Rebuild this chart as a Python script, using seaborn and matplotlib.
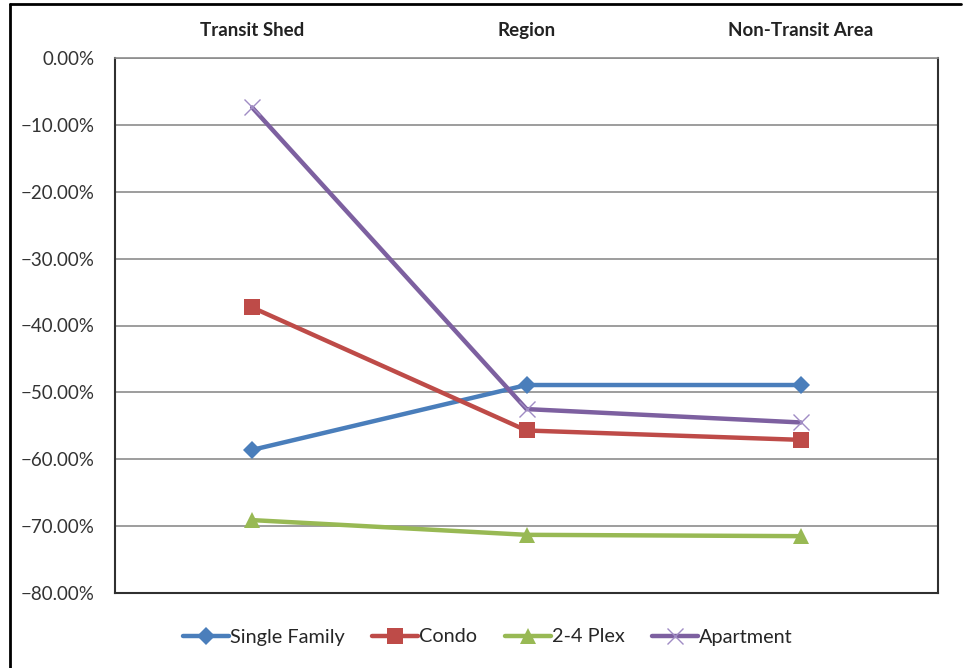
import pandas as pd
import matplotlib.pyplot as plt
import seaborn as sns
from matplotlib.lines import Line2D
from matplotlib.ticker import PercentFormatter

# data (percent change)
areas = ["Transit Shed", "Region", "Non-Transit Area"]
single_family = [-58.6, -48.9, -48.9]
condo = [-37.3, -55.7, -57.1]
plex = [-69.1, -71.3, -71.5]
apartment = [-7.4, -52.5, -54.5]

series = {"Single Family": single_family, "Condo": condo,
          "2-4 Plex": plex, "Apartment": apartment}
rows = []
for name, vals in series.items():
    for a, v in zip(areas, vals):
        rows.append({"area": a, "type": name, "change": v})
df = pd.DataFrame(rows)

colors = {"Single Family": "#4A7EBB", "Condo": "#BE4B48",
          "2-4 Plex": "#98B954", "Apartment": "#7D60A0"}
marker_style = {
    "Single Family": dict(marker="D", markersize=9, markeredgewidth=0),
    "Condo": dict(marker="s", markersize=11, markeredgewidth=0),
    "2-4 Plex": dict(marker="^", markersize=11, markeredgewidth=0),
    "Apartment": dict(marker="x", markersize=12, markeredgewidth=1.0,
                      markeredgecolor="#A08CC4"),
}

sns.set_style("white")
plt.rcParams["font.family"] = ["Lato", "DejaVu Sans"]

fig = plt.figure(figsize=(9.66, 6.68), dpi=100)
ax = fig.add_axes([115 / 966, 75 / 668, 823 / 966, 535 / 668])

for name in series:
    sub = df[df["type"] == name]
    sns.lineplot(data=sub, x="area", y="change", color=colors[name], sort=False,
                 linewidth=3.2, ax=ax, legend=False, **marker_style[name])

ax.set_xlim(-0.5, 2.5)
ax.set_ylim(-80, 0)
ax.set_yticks(range(-80, 1, 10))
ax.yaxis.set_major_formatter(PercentFormatter(decimals=2))
ax.xaxis.tick_top()
ax.set_xlabel("")
ax.set_ylabel("")
ax.tick_params(axis="x", length=0, pad=13.5, labelsize=13.5, colors="#222222")
ax.tick_params(axis="y", length=0, pad=15, labelsize=13.5, colors="#333333")
for lbl in ax.get_xticklabels():
    lbl.set_fontweight("bold")

ax.grid(axis="y", color="#8C8C8C", linewidth=1.2)
ax.set_axisbelow(True)
for s in ["left", "bottom", "right"]:
    ax.spines[s].set_color("#303030")
    ax.spines[s].set_linewidth(1.5)
ax.spines["top"].set_color("#8C8C8C")
ax.spines["top"].set_linewidth(1.2)

handles = [Line2D([], [], color=colors[n], lw=3.2, **marker_style[n]) for n in series]
fig.legend(handles, list(series), loc="center", bbox_to_anchor=(0.505, 1 - 637 / 668),
           ncol=4, frameon=False, fontsize=14.3, handlelength=2.3, handletextpad=0.05,
           columnspacing=1.4)

# outer chart border
fig.add_artist(Line2D([10 / 966, 961 / 966], [1 - 4 / 668, 1 - 4 / 668],
                      color="black", lw=2, transform=fig.transFigure))
fig.add_artist(Line2D([10 / 966, 10 / 966], [1 - 4 / 668, 0],
                      color="black", lw=2, transform=fig.transFigure))

fig.savefig("out.png", dpi=100)
